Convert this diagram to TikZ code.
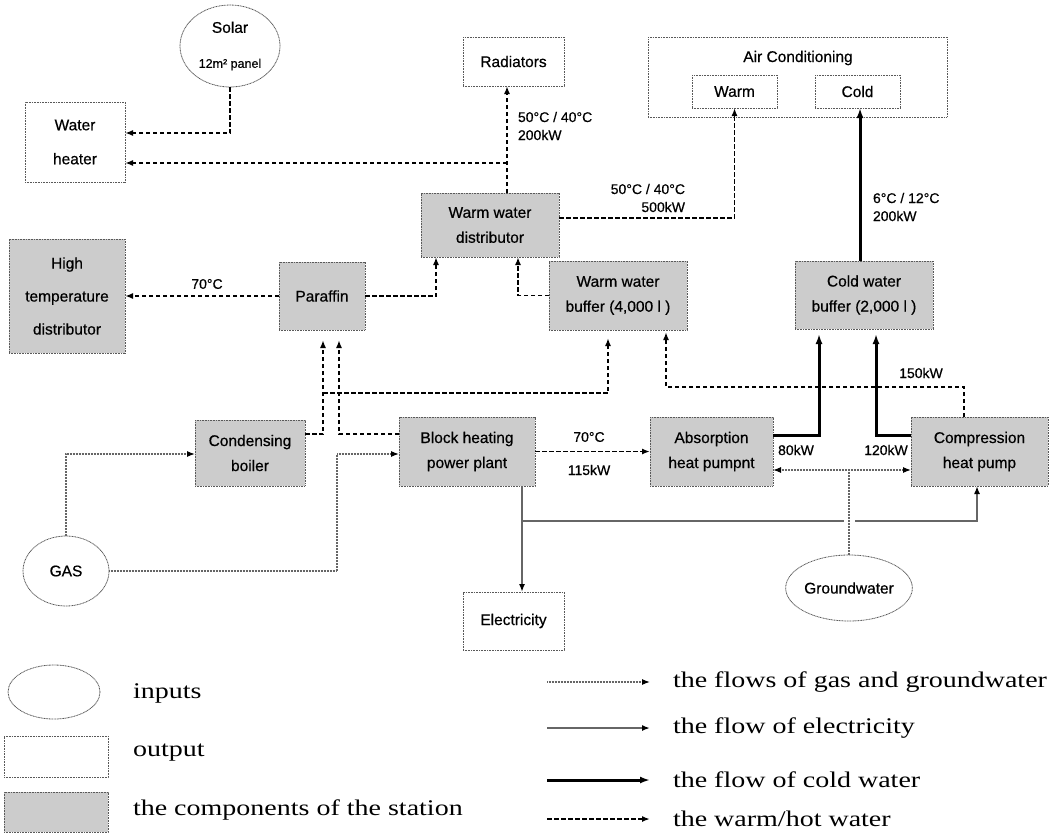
\documentclass[tikz,border=0pt]{standalone}
\usepackage{fontspec}
\setmainfont{Liberation Serif}
\setsansfont{Liberation Sans}[FakeBold=0.5]
\usepackage{graphicx}
\usetikzlibrary{arrows.meta,shapes.geometric}

\newcommand{\leglabel}[1]{\scalebox{1}[0.8]{#1}}

\begin{document}
\begin{tikzpicture}[x=1pt,y=-1pt,
	every node/.style={inner sep=0pt, outer sep=0pt},
	boxline/.style={draw=black!65, line width=0.8pt, dash pattern=on 1pt off 0.6pt},
	outbox/.style={boxline, rectangle, fill=white, align=center, font=\sffamily\fontsize{15.5}{25}\selectfont},
	unitbox/.style={outbox, fill=black!20},
	inbox/.style={boxline, ellipse, fill=white, align=center, font=\sffamily\fontsize{15.5}{25}\selectfont},
	lbl/.style={font=\sffamily\fontsize{14}{18}\selectfont, align=left},
	legtext/.style={font=\rmfamily\fontsize{28}{30}\selectfont, anchor=west},
	warm/.style={line width=1.6pt, dash pattern=on 4.5pt off 2.5pt, -{Latex[length=8pt,width=6pt]}},
	cold/.style={line width=3pt, -{Latex[length=10pt,width=7pt]}},
	gasline/.style={black!60, line width=1.2pt, dash pattern=on 1pt off 0.5pt},
	gas/.style={gasline, -{Latex[length=8pt,width=6pt,color=black]}},
	elec/.style={black!60, line width=2pt, -{Latex[length=8pt,width=6pt,color=black]}},
	]
	\useasboundingbox (0,0) rectangle (1060,836);

	%%%%% OUTPUTS AND INPUTS %%%%%
	\node[inbox, minimum width=100pt, minimum height=82pt] (solar) at (230,46)
		{Solar\\[10pt]{\fontsize{12.5}{14}\selectfont 12m² panel}};
	\node[outbox, minimum width=100pt, minimum height=80pt] (heater) at (75,142) {Water\\[9pt]heater};
	\node[outbox, minimum width=101pt, minimum height=49pt] (radiators) at (513.5,61.5) {Radiators};
	\node[outbox, minimum width=299pt, minimum height=80pt] (aircon) at (797.5,77) {};
	\node[font=\sffamily\fontsize{15.5}{20}\selectfont] (actitle) at (798,58) {Air Conditioning};
	\node[outbox, minimum width=85pt, minimum height=33pt] (warm) at (734.5,91.5) {Warm};
	\node[outbox, minimum width=85pt, minimum height=33pt] (cold) at (857.5,91.5) {Cold};
	\node[outbox, minimum width=101pt, minimum height=58pt] (elec) at (513.5,621) {Electricity};
	\node[inbox, minimum width=86pt, minimum height=70pt] (gas) at (66,571) {GAS};
	\node[inbox, minimum width=114pt, minimum height=66pt] (ground) at (849,588) {Groundwater};

	%%%%% STATION %%%%%
	\node[unitbox, minimum width=138pt, minimum height=64pt] (wwdist) at (490,225) {Warm water\\distributor};
	\node[unitbox, minimum width=116pt, minimum height=114pt] (hightemp) at (67,296) {High\\[8pt]temperature\\[8pt]distributor};
	\node[unitbox, minimum width=86pt, minimum height=68pt] (paraffin) at (322,296) {Paraffin};
	\node[unitbox, minimum width=138pt, minimum height=69pt] (wwbuf) at (618,295.5) {Warm water\\buffer (4,000 l )};
	\node[unitbox, minimum width=138pt, minimum height=68pt] (coldbuf) at (864,295) {Cold water\\buffer (2,000 l )};
	\node[unitbox, minimum width=110pt, minimum height=66pt] (boiler) at (250,453) {Condensing\\boiler};
	\node[unitbox, minimum width=136pt, minimum height=69pt] (plant) at (467,451.5) {Block heating\\power plant};
	\node[unitbox, minimum width=123pt, minimum height=69pt] (absorb) at (711.5,451.5) {Absorption\\heat pumpnt};
	\node[unitbox, minimum width=137pt, minimum height=69pt] (comp) at (979.5,451.5) {Compression\\heat pump};

	%%%%% WARM / HOT WATER %%%%%
	\coordinate (rv) at (507,163);
	\coordinate (jb) at (323,393);
	\draw[warm] (solar.south) |- (heater.east |- 0,133);
	\draw[warm] (rv |- wwdist.north) -- (rv |- radiators.south);
	\draw[warm] (rv) -- (heater.east |- rv);
	\draw[warm] (wwdist.east |- 0,218) -| (warm.south);
	\draw[warm] (paraffin.west) -- (hightemp.east |- paraffin.west);
	\draw[warm] (paraffin.east) -| (wwdist.south -| 436,0);
	\draw[warm] (wwbuf.west) -| (wwdist.south -| 518,0);
	\draw[warm, shorten >=10pt] (boiler.east |- 0,434) -| (paraffin.south -| jb);
	\draw[warm, shorten >=10pt] (plant.west |- 0,434) -| (paraffin.south -| 339,0);
	\draw[warm, shorten >=8pt] (jb) -| (wwbuf.south -| 608,0);
	\draw[warm] (plant.east) -- (absorb.west);
	\draw[warm, shorten >=2pt] (comp.north -| 964,0) |- (666,387) -- (wwbuf.south -| 666,0);

	%%%%% COLD WATER %%%%%
	\draw[cold] (coldbuf.north -| 860,0) -- (cold.south -| 860,0);
	\draw[cold, shorten >=5pt] (absorb.east |- 0,435) -| (coldbuf.south -| 819,0);
	\draw[cold, shorten >=5pt] (comp.west |- 0,435) -| (coldbuf.south -| 876,0);

	%%%%% GAS, GROUNDWATER, ELECTRICITY %%%%%
	\draw[gas] (gas.north) |- (boiler.west |- 0,454);
	\draw[gas] (gas.east) -| (337,454) -- (plant.west |- 0,454);
	\draw[elec] (plant.south -| 522,0) -- (elec.north -| 522,0);
	\draw[elec] (522,521) -| (comp.south -| 977,0);
	\draw[gasline, preaction={draw=white, solid, line width=11pt, shorten <=3pt, shorten >=3pt}]
		(ground.north) -- (ground.north |- 0,470);
	\draw[gas, {Latex[length=8pt,width=6pt,color=black]}-{Latex[length=8pt,width=6pt,color=black]}]
		(absorb.east |- 0,470) -- (comp.west |- 0,470);

	%%%%% LABELS %%%%%
	\node[lbl, anchor=west] (lrad) at (518,126) {50°C / 40°C\\200kW};
	\node[lbl, anchor=east, align=right] (lac) at (685,198) {50°C / 40°C\\500kW};
	\node[lbl, anchor=west] (lcold) at (873,207) {6°C / 12°C\\200kW};
	\node[lbl] (lhigh) at (207,284) {70°C};
	\node[lbl] (lplant) at (589,437) {70°C};
	\node[lbl] (lplantkw) at (589,470) {115kW};
	\node[lbl] (labs) at (796,450) {80kW};
	\node[lbl] (lcomp) at (886,450) {120kW};
	\node[lbl] (lret) at (921,373) {150kW};

	%%%%% LEGEND %%%%%
	\node[inbox, minimum width=92pt, minimum height=54pt] (keyin) at (54,692) {};
	\node[outbox, minimum width=104pt, minimum height=41pt] (keyout) at (56,756.5) {};
	\node[unitbox, minimum width=104pt, minimum height=40pt] (keyunit) at (56,812) {};
	\node[legtext] (tin) at (133,693) {\leglabel{inputs}};
	\node[legtext] (tout) at (133,753) {\leglabel{output}};
	\node[legtext] (tunit) at (133,810) {\leglabel{the components of the station}};
	\foreach \s/\yy/\t in {gas/682/{the flows of gas and groundwater},
		elec/728/{the flow of electricity},
		cold/780/{the flow of cold water},
		warm/819/{the warm/hot water}}{
		\coordinate (ka\s) at (547,\yy);
		\coordinate (kb\s) at (650,\yy);
		\draw[\s] (ka\s) -- (kb\s);
		\node[legtext] (t\s) at (673,\yy) {\leglabel{\t}};
	}
\end{tikzpicture}
\end{document}
